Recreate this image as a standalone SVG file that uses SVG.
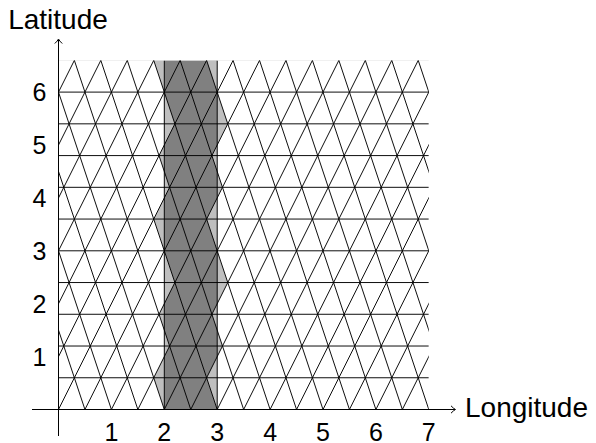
<svg xmlns="http://www.w3.org/2000/svg" width="596" height="443" viewBox="0 0 596 443">
<style>
.lbl{font-family:"Liberation Sans",Arial,sans-serif;fill:#000}
.ax{font-size:28px}
.num{font-size:25px}
.lt{fill:#bfbfbf;stroke:none}
.dk{fill:#808080;stroke:none}
.mesh{fill:none;stroke:#000;stroke-width:0.018}
.faint{fill:none;stroke:#e6e6e6;stroke-width:0.018}
.axis{fill:none;stroke:#000;stroke-width:1}
</style>
<defs>
<clipPath id="clipGrid" clipPathUnits="userSpaceOnUse"><rect x="0" y="0" width="7" height="6.6"/></clipPath>
<clipPath id="clipBand" clipPathUnits="userSpaceOnUse"><rect x="2" y="0" width="1" height="6.6"/></clipPath>
</defs>
<rect width="596" height="443" fill="#fff"/>
<g id="grid" transform="matrix(52.9 0 0 -52.9 58.5 409.5)">
 <g id="band-fill">
  <path class="lt" d="M1.8,0.6L2.3,0.6L2,0Z M1.8,3.6L2.3,3.6L2,3Z M1.8,6.6L2.3,6.6L2,6Z M1.8,0.6L2.3,0.6L2.1,1.2Z M1.8,3.6L2.3,3.6L2.1,4.2Z M1.9,1.8L2.4,1.8L2.1,1.2Z M1.9,4.8L2.4,4.8L2.1,4.2Z M1.9,1.8L2.4,1.8L2.2,2.4Z M1.9,4.8L2.4,4.8L2.2,5.4Z M2.6,1.2L3.1,1.2L2.8,0.6Z M2.6,4.2L3.1,4.2L2.8,3.6Z M2.6,1.2L3.1,1.2L2.9,1.8Z M2.6,4.2L3.1,4.2L2.9,4.8Z M2.7,2.4L3.2,2.4L2.9,1.8Z M2.7,5.4L3.2,5.4L2.9,4.8Z M2.7,2.4L3.2,2.4L3,3Z M2.7,5.4L3.2,5.4L3,6Z"/>
  <rect class="dk" x="2" y="0" width="1" height="6.6"/>
  <g clip-path="url(#clipBand)">
   <path class="lt" d="M1.6,1.2L2.1,1.2L1.8,0.6Z M1.6,4.2L2.1,4.2L1.8,3.6Z M1.6,1.2L2.1,1.2L1.9,1.8Z M1.6,4.2L2.1,4.2L1.9,4.8Z M1.7,2.4L2.2,2.4L1.9,1.8Z M1.7,5.4L2.2,5.4L1.9,4.8Z M1.7,2.4L2.2,2.4L2,3Z M1.7,5.4L2.2,5.4L2,6Z M2.8,0.6L3.3,0.6L3,0Z M2.8,3.6L3.3,3.6L3,3Z M2.8,6.6L3.3,6.6L3,6Z M2.8,0.6L3.3,0.6L3.1,1.2Z M2.8,3.6L3.3,3.6L3.1,4.2Z M2.9,1.8L3.4,1.8L3.1,1.2Z M2.9,4.8L3.4,4.8L3.1,4.2Z M2.9,1.8L3.4,1.8L3.2,2.4Z M2.9,4.8L3.4,4.8L3.2,5.4Z"/>
  </g>
  <path class="mesh" d="M2,0V6.6 M3,0V6.6"/>
 </g>
 <g id="mesh" clip-path="url(#clipGrid)">
  <path class="faint" d="M0,6.6H7"/>
  <path class="mesh" d="M0,0H7 M0,0.6H7 M0,1.2H7 M0,1.8H7 M0,2.4H7 M0,3H7 M0,3.6H7 M0,4.2H7 M0,4.8H7 M0,5.4H7 M0,6H7"/>
  <path class="mesh" d="M-3,0L0.3,6.6 M-2.5,0L0.8,6.6 M-2,0L1.3,6.6 M-1.5,0L1.8,6.6 M-1,0L2.3,6.6 M-0.5,0L2.8,6.6 M0,0L3.3,6.6 M0.5,0L3.8,6.6 M1,0L4.3,6.6 M1.5,0L4.8,6.6 M2,0L5.3,6.6 M2.5,0L5.8,6.6 M3,0L6.3,6.6 M3.5,0L6.8,6.6 M4,0L7.3,6.6 M4.5,0L7.8,6.6 M5,0L8.3,6.6 M5.5,0L8.8,6.6 M6,0L9.3,6.6 M6.5,0L9.8,6.6"/>
  <path class="mesh" d="M0.5,0L-1.7,6.6 M1,0L-1.2,6.6 M1.5,0L-0.7,6.6 M2,0L-0.2,6.6 M2.5,0L0.3,6.6 M3,0L0.8,6.6 M3.5,0L1.3,6.6 M4,0L1.8,6.6 M4.5,0L2.3,6.6 M5,0L2.8,6.6 M5.5,0L3.3,6.6 M6,0L3.8,6.6 M6.5,0L4.3,6.6 M7,0L4.8,6.6 M7.5,0L5.3,6.6 M8,0L5.8,6.6 M8.5,0L6.3,6.6 M9,0L6.8,6.6"/>
 </g>
</g>
<g id="axes">
 <path class="axis" d="M32,409.5H455 M58.5,436V40"/>
 <path class="axis" d="M451,405.8Q453.6,408.6 455.5,409.5Q453.6,410.4 451,413.2"/>
 <path class="axis" d="M54.8,43.5Q57.6,40.9 58.5,39Q59.4,40.9 62.2,43.5"/>
</g>
<g id="labels" class="lbl">
 <text class="ax" x="58" y="28.5" text-anchor="middle">Latitude</text>
 <text class="ax" x="465" y="417">Longitude</text>
 <g class="num" text-anchor="middle">
  <text x="111.4" y="440.5">1</text>
  <text x="164.3" y="440.5">2</text>
  <text x="217.2" y="440.5">3</text>
  <text x="270.1" y="440.5">4</text>
  <text x="323" y="440.5">5</text>
  <text x="375.9" y="440.5">6</text>
  <text x="428.8" y="440.5">7</text>
 </g>
 <g class="num" text-anchor="end">
  <text x="46.5" y="365.6">1</text>
  <text x="46.5" y="312.7">2</text>
  <text x="46.5" y="259.8">3</text>
  <text x="46.5" y="206.9">4</text>
  <text x="46.5" y="154">5</text>
  <text x="46.5" y="101.1">6</text>
 </g>
</g>
</svg>
